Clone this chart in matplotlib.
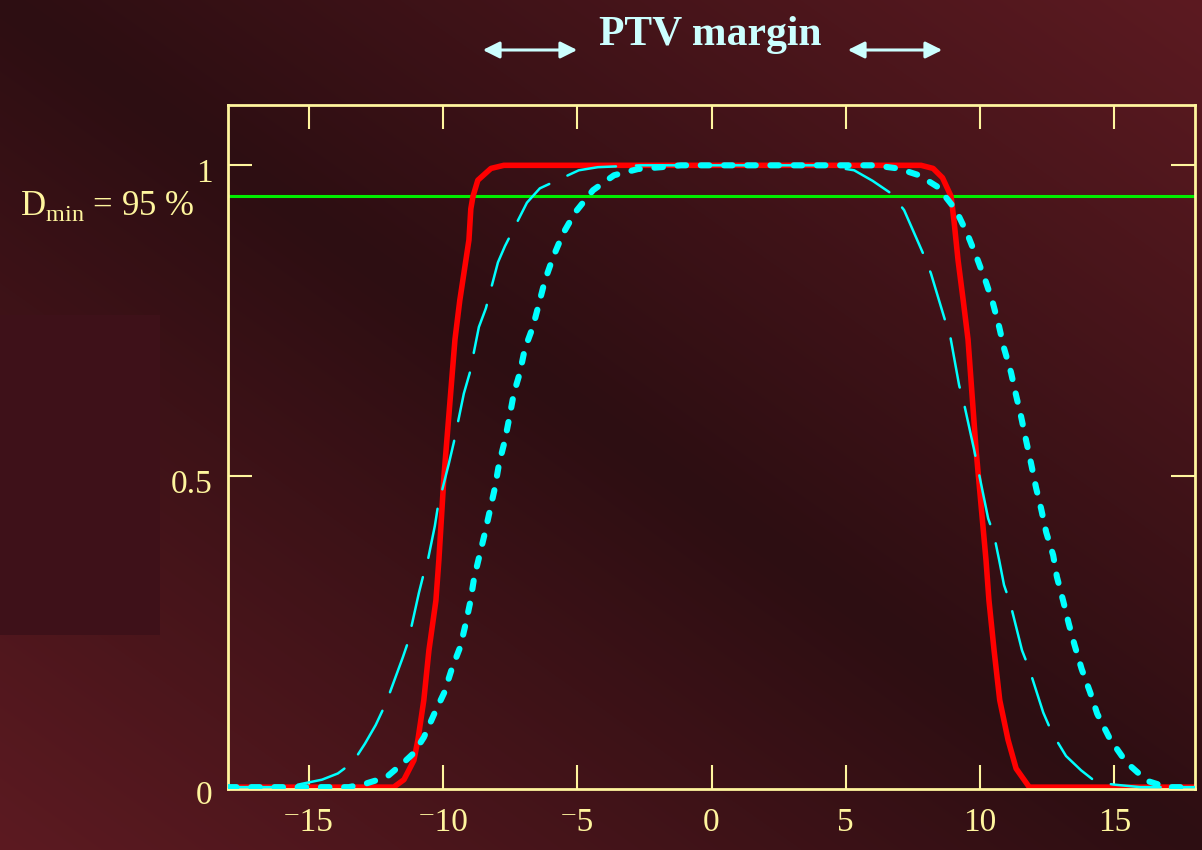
import numpy as np
import matplotlib
matplotlib.use('Agg')
import matplotlib.pyplot as plt
from matplotlib.patches import Rectangle, FancyArrowPatch
from matplotlib import transforms

# dose profiles (position in mm, relative dose)
red_x = [-18, -11.83, -11.45, -11.08, -10.93, -10.71, -10.52, -10.26, -10.15, -9.96,
         -9.55, -9.37, -9.03, -8.96, -8.88, -8.7, -8.21, -7.73,
         7.8, 8.25, 8.6, 8.92, 9.03, 9.18, 9.37, 9.55, 9.85, 10.22, 10.33,
         10.52, 10.73, 11.04, 11.34, 11.83, 18]
red_y = [0, 0, 0.012, 0.043, 0.076, 0.14, 0.22, 0.30, 0.365, 0.5,
         0.72, 0.783, 0.88, 0.93, 0.95, 0.976, 0.995, 1.0,
         1.0, 0.995, 0.98, 0.95, 0.91, 0.847, 0.783, 0.72, 0.542, 0.365, 0.30,
         0.22, 0.14, 0.076, 0.03, 0.0, 0.0]

thin_x = [-18, -15.8, -15.29, -14.5, -13.91, -13.35, -12.9, -12.5, -12.12, -11.49,
          -11.3, -10.89, -10.71, -10.56, -10.3, -10.19, -9.78, -9.59, -9.22, -9.0,
          -8.66, -8.4, -7.95, -7.69, -6.87, -6.39, -4.94, -4.23, -2.63,
          3.9, 4.6, 5.31, 6.0, 6.68, 7.17, 7.88, 8.17, 8.7, 8.88, 9.22, 9.4,
          9.78, 9.93, 10.3, 10.52, 10.71, 10.89, 11.12, 11.56, 11.83, 12.35,
          12.68, 13.2, 13.76, 14.32, 15.0, 15.96, 18]
thin_y = [0, 0, 0.005, 0.012, 0.022, 0.04, 0.07, 0.10, 0.135, 0.209,
          0.233, 0.313, 0.344, 0.365, 0.42, 0.45, 0.52, 0.555, 0.633, 0.666,
          0.74, 0.77, 0.844, 0.87, 0.94, 0.963, 0.992, 0.997, 1.0,
          1.0, 0.997, 0.992, 0.975, 0.955, 0.928, 0.858, 0.826, 0.75, 0.727, 0.646, 0.617,
          0.542, 0.51, 0.432, 0.405, 0.365, 0.325, 0.296, 0.22, 0.19, 0.12,
          0.087, 0.05, 0.027, 0.008, 0.004, 0.0, 0.0]

thick_x = [-18, -13.5, -12.85, -12.1, -11.45, -11.08, -10.71, -10.3, -9.95, -9.67,
           -9.35, -9.15, -8.97, -8.84, -8.44, -8.06, -7.91, -7.69, -7.5, -7.36,
           -7.13, -6.95, -6.65, -6.42, -6.2, -5.9, -5.53, -5.08, -4.41, -3.63,
           -2.74, -1.88, -1.14,
           6.05, 6.94, 7.73, 8.43, 9.1, 9.52, 9.89, 10.22, 10.48, 10.71, 10.89,
           11.15, 11.34, 11.53, 11.71, 11.9, 12.08, 12.27, 12.46, 12.72, 12.86,
           13.09, 13.3, 13.52, 13.78, 14.1, 14.36, 14.84, 15.44, 16.22, 16.96, 18]
thick_y = [0, 0, 0.006, 0.016, 0.04, 0.055, 0.08, 0.12, 0.152, 0.19,
           0.226, 0.263, 0.30, 0.336, 0.408, 0.482, 0.52, 0.558, 0.60, 0.633,
           0.667, 0.705, 0.74, 0.778, 0.815, 0.852, 0.89, 0.924, 0.96, 0.984,
           0.994, 0.997, 1.0,
           1.0, 0.995, 0.984, 0.965, 0.928, 0.89, 0.85, 0.812, 0.778, 0.74, 0.706,
           0.667, 0.63, 0.595, 0.558, 0.52, 0.482, 0.448, 0.41, 0.373, 0.338,
           0.30, 0.263, 0.228, 0.19, 0.152, 0.118, 0.077, 0.04, 0.01, 0.0, 0.0]

d_min = 0.95
x_ticks = [-15, -10, -5, 0, 5, 10, 15]
x_labels = ['\u207b15', '\u207b10', '\u207b5', '0', '5', '10', '15']
y_ticks = [0, 0.5, 1]
y_labels = ['0', '0.5', '1']

yellow = '#FFF59E'
pale_cyan = '#CCFFFF'
serif = ['Liberation Serif', 'DejaVu Serif']
plt.rcParams['mathtext.fontset'] = 'custom'
plt.rcParams['mathtext.rm'] = 'Liberation Serif'

W, H = 1202, 850
fig = plt.figure(figsize=(W / 100, H / 100), dpi=100)

# background gradient, lighter towards top-right and bottom-left
bg = fig.add_axes([0, 0, 1, 1], zorder=0)
u = np.linspace(0, 1, W)[None, :]
v = np.linspace(0, 1, H)[:, None]
t = np.abs(u - v)
dark = np.array([45, 14, 18]) / 255
light = np.array([92, 26, 33]) / 255
img = dark + (light - dark) * t[..., None]
bg.imshow(img, extent=[0, 1, 0, 1], origin='upper', aspect='auto')
bg.add_patch(Rectangle((0, 1 - 635 / H), 160 / W, 320 / H, color='#3E1119', lw=0))
bg.set_xlim(0, 1)
bg.set_ylim(0, 1)
bg.axis('off')

ax = fig.add_axes([228 / W, 1 - 789 / H, (1195 - 228) / W, (789 - 105) / H], zorder=1)
ax.patch.set_alpha(0)

ax.axhline(d_min, color='#00EE00', lw=2.2, zorder=1)
ax.plot(red_x, red_y, color='#FF0000', lw=4, zorder=2, solid_joinstyle='round')
ax.plot(thin_x, thin_y, color='#00FFFF', lw=1.8, dashes=(20, 8),
        dash_capstyle='round', zorder=3)
ax.plot(thick_x, thick_y, color='#00FFFF', lw=4.4, dashes=(1.4, 2.4),
        dash_capstyle='round', zorder=4)

ax.set_xlim(-18, 18)
ax.set_ylim(-0.003, 1.097)
ax.set_xticks(x_ticks)
ax.set_xticklabels(x_labels, fontfamily=serif)
ax.set_yticks(y_ticks)
ax.set_yticklabels(y_labels, fontfamily=serif)
ax.tick_params(direction='in', top=True, right=True, length=17, width=1.5,
               color=yellow, labelcolor=yellow, labelsize=24)
ax.tick_params(axis='x', pad=13)
ax.tick_params(axis='y', pad=11)
for s in ax.spines.values():
    s.set_color(yellow)
    s.set_linewidth(2)

off = transforms.ScaledTranslation(0, -5 / 100, fig.dpi_scale_trans)
for lab in ax.get_yticklabels():
    lab.set_transform(lab.get_transform() + off)

fig.text(710 / W, 1 - 45 / H, 'PTV margin', ha='center', va='baseline', fontsize=30,
         fontweight='bold', color=pale_cyan, family=serif)
for x0, x1 in [(480, 580), (845, 945)]:
    fig.add_artist(FancyArrowPatch((x0 / W, 1 - 50 / H), (x1 / W, 1 - 50 / H),
                                   transform=fig.transFigure,
                                   arrowstyle='<|-|>,head_length=0.5,head_width=0.25',
                                   mutation_scale=20, color=pale_cyan, lw=2.2))

fig.text(20 / W, 1 - 215 / H, r'$\mathrm{D}_{\mathrm{min}}$ = 95 %', fontsize=25,
         color=yellow, family=serif, va='baseline')

fig.savefig('out.png', dpi=100)
